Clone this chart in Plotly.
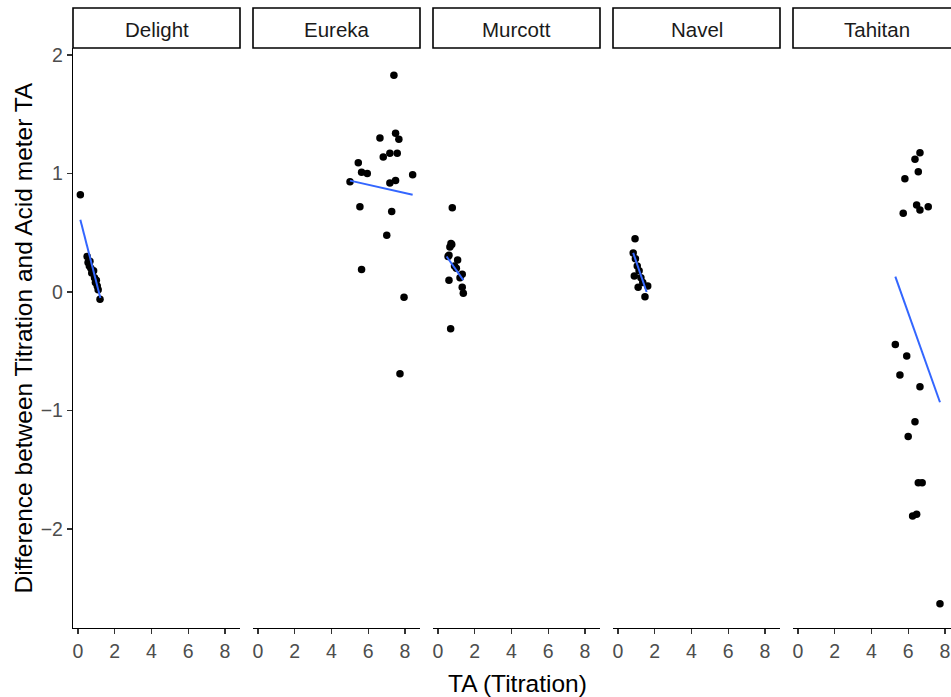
import plotly.graph_objects as go

# ---------------- data ----------------
panels = ["Delight", "Eureka", "Murcott", "Navel", "Tahitan"]

delight_x = [0.13, 0.50, 0.55, 0.62, 0.65, 0.70, 0.75, 0.85, 0.90, 0.95, 1.00, 1.05, 1.10, 1.20]
delight_y = [0.82, 0.30, 0.25, 0.22, 0.26, 0.20, 0.16, 0.18, 0.12, 0.08, 0.10, 0.05, 0.02, -0.06]

eureka_x = [7.40, 7.49, 6.64, 7.67, 6.82, 7.18, 7.58, 5.46, 5.64, 5.95, 8.42, 5.01, 7.18, 7.49,
            5.55, 7.28, 7.01, 5.64, 7.95, 7.73]
eureka_y = [1.83, 1.34, 1.30, 1.29, 1.14, 1.17, 1.17, 1.09, 1.01, 1.00, 0.99, 0.93, 0.92, 0.94,
            0.72, 0.68, 0.48, 0.19, -0.045, -0.69]

murcott_x = [0.78, 0.71, 0.65, 0.75, 0.60, 0.55, 1.07, 0.90, 1.00, 1.32, 1.20, 0.60, 1.32, 1.38, 0.69]
murcott_y = [0.71, 0.41, 0.38, 0.40, 0.31, 0.30, 0.27, 0.22, 0.20, 0.15, 0.12, 0.10, 0.04, -0.01, -0.31]

navel_x = [0.93, 0.83, 0.95, 1.05, 1.15, 0.89, 1.25, 1.35, 1.10, 1.62, 1.47]
navel_y = [0.45, 0.33, 0.28, 0.22, 0.18, 0.135, 0.12, 0.08, 0.04, 0.05, -0.04]

tahitan_x = [6.64, 6.37, 6.55, 5.82, 6.46, 6.64, 7.09, 5.73, 5.30, 5.92, 5.55, 6.64, 6.37, 6.00,
             6.55, 6.76, 6.24, 6.46, 7.73]
tahitan_y = [1.176, 1.12, 1.015, 0.956, 0.734, 0.692, 0.72, 0.664, -0.442, -0.54, -0.70, -0.80,
             -1.095, -1.22, -1.61, -1.61, -1.89, -1.876, -2.63]

# linear-fit lines (start/end)
fit_x0 = [0.13, 5.01, 0.47, 0.83, 5.30]
fit_x1 = [1.22, 8.42, 1.38, 1.56, 7.73]
fit_y0 = [0.61, 0.94, 0.30, 0.33, 0.13]
fit_y1 = [-0.05, 0.82, 0.10, 0.00, -0.93]

x_ticks = [0, 2, 4, 6, 8]
y_ticks = [-2, -1, 0, 1, 2]

xs = [delight_x, eureka_x, murcott_x, navel_x, tahitan_x]
ys = [delight_y, eureka_y, murcott_y, navel_y, tahitan_y]

# ---------------- layout geometry (window pixels) ----------------
W, H = 951, 697
plot_left, plot_top, plot_bot = 73, 48, 628
strip_top = 8
ML = plot_left
MT = strip_top
MB = H - plot_bot
MR = 0
pw = W - ML - MR
ph = H - MT - MB
panel_px = [(73, 240), (253, 420), (433, 600), (613, 780), (793, 951)]
panel_w = 167
upp = 9.09 / 167.0  # x units per pixel
x_min = -0.27
ydom_top = (plot_bot - plot_top) / ph


def xp(px):
    return (px - ML) / pw


FONT = "Liberation Sans, Arial, sans-serif"
fig = go.Figure()

for i, name in enumerate(panels):
    ax = "x" if i == 0 else f"x{i+1}"
    fig.add_trace(go.Scatter(x=xs[i], y=ys[i], mode="markers", xaxis=ax, yaxis="y",
                             marker=dict(color="black", size=7.5, line=dict(width=0)),
                             showlegend=False, hoverinfo="skip"))
    fig.add_trace(go.Scatter(x=[fit_x0[i], fit_x1[i]], y=[fit_y0[i], fit_y1[i]], mode="lines",
                             xaxis=ax, yaxis="y", line=dict(color="#3366FF", width=2),
                             showlegend=False, hoverinfo="skip"))

shapes = []
annotations = []
for i, name in enumerate(panels):
    a, b = panel_px[i]
    key = "xaxis" if i == 0 else f"xaxis{i+1}"
    xmax = x_min + (b - a) * upp
    fig.layout[key] = dict(domain=[xp(a), min(xp(b), 1.0)], range=[x_min, xmax], anchor="y",
                           showline=True, linecolor="black", linewidth=1.2,
                           ticks="outside", ticklen=5, tickcolor="#333333", tickwidth=1.2,
                           tickvals=x_ticks, showgrid=False, zeroline=False, automargin=False,
                           tickfont=dict(family=FONT, size=19.5, color="#4D4D4D"))
    # strip (Tahitan strip is cut off by the right edge like in the original)
    s0 = xp(a)
    s1 = xp(a + panel_w)
    shapes.append(dict(type="rect", xref="paper", yref="paper", x0=s0, x1=s1,
                       y0=ydom_top, y1=1.0, line=dict(color="black", width=1.6),
                       fillcolor="white", layer="above"))
    annotations.append(dict(text=name, xref="paper", yref="paper", x=(s0 + s1) / 2,
                            y=(ydom_top + 1) / 2 - 1.5 / ph, showarrow=False, xanchor="center",
                            yanchor="middle",
                            font=dict(family=FONT, size=20.5, color="#1A1A1A")))

fig.layout["yaxis"] = dict(domain=[0, ydom_top], range=[-2.835, 2.059], anchor="x",
                           showline=True, linecolor="black", linewidth=1.2,
                           ticks="outside", ticklen=5, tickcolor="#333333", tickwidth=1.2,
                           tickvals=y_ticks, showgrid=False, zeroline=False, automargin=False,
                           tickfont=dict(family=FONT, size=19.5, color="#4D4D4D"))

annotations.append(dict(text="TA (Titration)", xref="paper", yref="paper",
                        x=xp(517), y=-(683 - plot_bot) / ph, showarrow=False,
                        xanchor="center", yanchor="middle",
                        font=dict(family=FONT, size=24.5, color="black")))
annotations.append(dict(text="Difference between Titration and Acid meter TA", xref="paper",
                        yref="paper", x=xp(22.5), y=ydom_top / 2, showarrow=False,
                        xanchor="center", yanchor="middle", textangle=-90,
                        font=dict(family=FONT, size=24.5, color="black")))

fig.update_layout(template="none", width=W, height=H,
                  margin=dict(l=ML, r=MR, t=MT, b=MB, pad=0, autoexpand=False),
                  paper_bgcolor="white", plot_bgcolor="white", hovermode=False,
                  shapes=shapes, annotations=annotations, showlegend=False)

post = ("document.documentElement.style.margin='0';document.body.style.margin='0';"
        "document.body.style.padding='0';document.documentElement.style.overflow='hidden';"
        "document.body.style.overflow='hidden';")
fig.write_html("out.html", post_script=post,
               config={"displayModeBar": False, "staticPlot": True})
